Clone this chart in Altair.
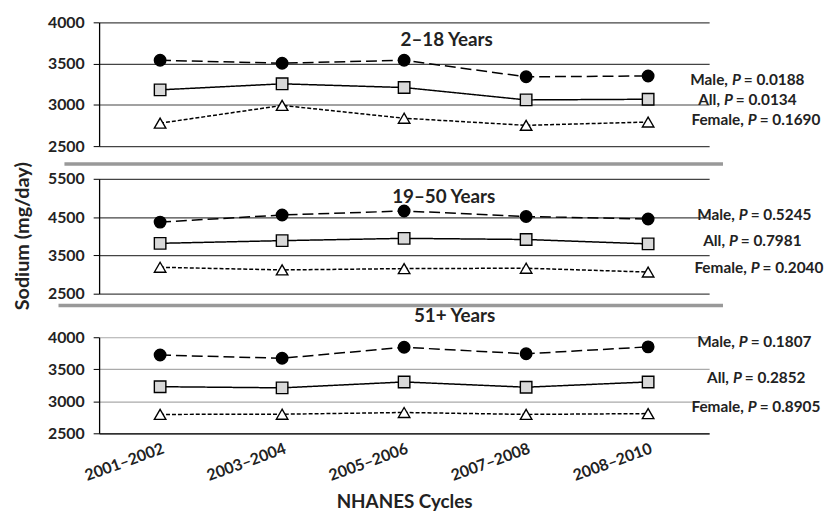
import altair as alt
import pandas as pd

cycles = ["2001–2002", "2003–2004", "2005–2006", "2007–2008", "2008–2010"]
series = ["Male", "All", "Female"]

child_male = [3540, 3505, 3540, 3340, 3350]
child_all = [3182, 3255, 3210, 3060, 3068]
child_female = [2778, 2993, 2838, 2752, 2792]

adult_male = [4370, 4555, 4660, 4515, 4450]
adult_all = [3815, 3885, 3945, 3915, 3800]
adult_female = [3190, 3120, 3155, 3165, 3065]

older_male = [3722, 3672, 3843, 3742, 3850]
older_all = [3228, 3210, 3302, 3220, 3302]
older_female = [2795, 2798, 2825, 2795, 2808]

panel_titles = ["2–18 Years", "19–50 Years", "51+ Years"]
prefixes = ["Male,", "All,", "Female,"]
p_child = ["= 0.0188", "= 0.0134", "= 0.1690"]
p_adult = ["= 0.5245", "= 0.7981", "= 0.2040"]
p_older = ["= 0.1807", "= 0.2852", "= 0.8905"]

child_ticks = [2500, 3000, 3500, 4000]
adult_ticks = [2500, 3500, 4500, 5500]
older_ticks = [2500, 3000, 3500, 4000]

FONT = "Lato"
TXT = "#222222"
W = 616


def frame(male, all_, female):
    rows = []
    for name, vals in zip(series, [male, all_, female]):
        for c, v in zip(cycles, vals):
            rows.append({"cycle": c, "series": name, "value": v})
    return pd.DataFrame(rows)


def one(text, x, y, align="left", size=15.5, style="normal", angle=0):
    return alt.Chart(alt.Data(values=[{}])).mark_text(
        align=align, baseline="middle", font=FONT, fontWeight="bold",
        fontSize=size, fontStyle=style, color=TXT, angle=angle
    ).encode(x=alt.value(x), y=alt.value(y), text=alt.value(text))


def panel(df, dom, ticks, h, plot_h, grid_color, title, title_xy, label_rows, pvals,
          show_x=False, sep=None, extra=None):
    if show_x:
        xaxis = alt.Axis(labelAngle=340, ticks=False, domain=True, domainColor="black",
                         domainWidth=1.3, grid=False, title="NHANES Cycles",
                         titlePadding=9, labelPadding=7, titleFontSize=19)
    else:
        xaxis = None
    base = alt.Chart(df).encode(
        x=alt.X("cycle:N", sort=cycles, scale=alt.Scale(type="point", padding=0.5), axis=xaxis),
        y=alt.Y("value:Q", scale=alt.Scale(domain=dom, nice=False, zero=False, range=[plot_h, 0]),
                axis=alt.Axis(values=ticks, format="d", title=None, grid=True, gridColor=grid_color,
                              gridWidth=1.2, domainColor="black", domainWidth=1.3,
                              tickColor="black", tickSize=6, labelPadding=9)),
    )
    lines = base.mark_line(color="black", strokeWidth=1.5).encode(
        strokeDash=alt.StrokeDash("series:N", scale=alt.Scale(domain=series, range=[[11, 5], [1, 0], [4, 2]]), legend=None),
        detail="series:N",
    )
    points = base.mark_point(filled=True, stroke="black", strokeWidth=1.4, opacity=1, size=135).encode(
        shape=alt.Shape("series:N", scale=alt.Scale(domain=series, range=["circle", "square", "triangle-up"]), legend=None),
        fill=alt.Fill("series:N", scale=alt.Scale(domain=series, range=["black", "#d9d9d9", "white"]), legend=None),
    )
    layers = [lines, points, one(title, title_xy[0], title_xy[1], align="center", size=19)]
    for pre, pv, (xp, yy) in zip(prefixes, pvals, label_rows):
        layers.append(one(pre, xp - 4, yy, align="right"))
        layers.append(one("P", xp, yy, style="italic"))
        layers.append(one(pv, xp + 12, yy))
    if sep is not None:
        layers.append(alt.Chart(alt.Data(values=[{}])).mark_rule(color="#999999", strokeWidth=3.5).encode(
            x=alt.value(sep[0]), x2=alt.value(sep[1]), y=alt.value(sep[2])))
    if extra is not None:
        layers.extend(extra)
    return alt.layer(*layers).properties(width=W, height=h)


p1 = panel(frame(child_male, child_all, child_female), [2500, 4000], child_ticks, 125, 125, "#444444",
           panel_titles[0], (351, 18), [(639, 58), (631, 78), (655, 99)], p_child,
           sep=(-35, 630, 143))
p2 = panel(frame(adult_male, adult_all, adult_female), [2500, 5500], adult_ticks, 127, 116, "#444444",
           panel_titles[1], (348, 18), [(646, 37), (636, 63), (658, 90)], p_adult,
           sep=(-41, 630, 128),
           extra=[one("Sodium (mg/day)", -77, 58, align="center", size=20, angle=270)])
p3 = panel(frame(older_male, older_all, older_female), [2500, 4000], older_ticks, 97, 97, "#aaaaaa",
           panel_titles[2], (359, -21), [(646, 5), (640, 41), (655, 70)], p_older,
           show_x=True)

chart = alt.vconcat(p1, p2, p3, spacing=33, bounds="flush").properties(
    padding={"left": 5, "top": 4, "right": 0, "bottom": 0}
).configure_view(stroke=None).configure_axis(
    labelFont=FONT, labelFontWeight="bold", labelFontSize=16, labelColor=TXT,
    titleFont=FONT, titleFontWeight="bold", titleFontSize=19, titleColor=TXT,
)

chart.save("out.html", embed_options={"renderer": "svg", "actions": False})
